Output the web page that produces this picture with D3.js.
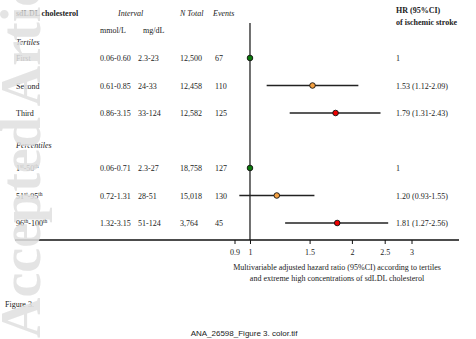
<!DOCTYPE html>
<html><head><meta charset="utf-8">
<script src="https://cdn.jsdelivr.net/npm/d3@7"></script>
<style>body{margin:0;background:#fff}svg{display:block}text{font-family:"Liberation Serif","Times New Roman",serif;font-size:8px;fill:#222}</style>
</head><body>
<script>
const groups = ["Tertiles", "Percentiles"];
const labels = ["First", "Second", "Third", "1st-50th", "51st-95th", "96th-100th"];
const mmol = ["0.06-0.60", "0.61-0.85", "0.86-3.15", "0.06-0.71", "0.72-1.31", "1.32-3.15"];
const mgdl = ["2.3-23", "24-33", "33-124", "2.3-27", "28-51", "51-124"];
const nTotal = ["12,500", "12,458", "12,582", "18,758", "15,018", "3,764"];
const events = [67, 110, 125, 127, 130, 45];
const hr = [1, 1.53, 1.79, 1, 1.20, 1.81];
const lo = [null, 1.12, 1.31, null, 0.93, 1.27];
const hi = [null, 2.09, 2.43, null, 1.55, 2.56];
const hrText = ["1", "1.53 (1.12-2.09)", "1.79 (1.31-2.43)", "1", "1.20 (0.93-1.55)", "1.81 (1.27-2.56)"];
const pointColors = ["#0b7a0b", "#f5a142", "#ee0000", "#0b7a0b", "#f5a142", "#ee0000"];
const ticks = [0.9, 1, 1.5, 2, 2.5, 3];
const tickLabels = ["0.9", "1", "1.5", "2", "2.5", "3"];
const slots = [0, 1, 2, 4, 5, 6];
const groupSlots = [-0.6, 3.16];

const W = 476, H = 339;
const svg = d3.select("body").append("svg").attr("width", W).attr("height", H);

const x = d3.scaleLog().domain([0.9, 3]).range([234.5, 411.5]);
const y = d3.scaleLinear().domain([0, 6]).range([58, 223]);
const axisY = 240;

// headers
svg.append("text").attr("x", 16).attr("y", 16).style("font-weight", "bold").text("sdLDL cholesterol");
svg.append("text").attr("x", 118).attr("y", 16).style("font-style", "italic").text("Interval");
svg.append("text").attr("x", 180).attr("y", 16).style("font-style", "italic").text("N Total");
svg.append("text").attr("x", 213).attr("y", 16).style("font-style", "italic").text("Events");
svg.append("text").attr("x", 100).attr("y", 33).text("mmol/L");
svg.append("text").attr("x", 143).attr("y", 33).text("mg/dL");
svg.append("text").attr("x", 396).attr("y", 13).style("font-weight", "bold").text("HR (95%CI)");
svg.append("text").attr("x", 396).attr("y", 25).style("font-weight", "bold").text("of ischemic stroke");

// group headers
svg.selectAll(".grp").data(groups).join("text").attr("class", "grp")
  .attr("x", 16).attr("y", (d, i) => y(groupSlots[i]) + 3)
  .style("font-style", "italic").text(d => d);

// row labels with superscript ordinals
const lab = svg.selectAll(".lab").data(labels).join("text").attr("class", "lab")
  .attr("x", 16).attr("y", (d, i) => y(slots[i]) + 3);
lab.each(function (d) {
  const t = d3.select(this);
  const parts = [];
  const re = /(\d+)(st|nd|rd|th)/g;
  let last = 0, m;
  while ((m = re.exec(d)) !== null) {
    if (m.index > last) parts.push({ s: d.slice(last, m.index), sup: false });
    parts.push({ s: m[1], sup: false });
    parts.push({ s: m[2], sup: true });
    last = re.lastIndex;
  }
  if (last < d.length) parts.push({ s: d.slice(last), sup: false });
  let prevSup = false;
  parts.forEach(p => {
    const ts = t.append("tspan").text(p.s);
    if (p.sup) ts.style("font-size", "5.5px");
    if (p.sup && !prevSup) ts.attr("dy", -3);
    if (!p.sup && prevSup) ts.attr("dy", 3);
    prevSup = p.sup;
  });
});

const cols = [[mmol, 100], [mgdl, 138], [nTotal, 180], [events, 215], [hrText, 396]];
cols.forEach(([arr, cx]) => {
  svg.append("g").selectAll("text").data(arr).join("text")
    .attr("x", cx).attr("y", (d, i) => y(slots[i]) + 3).text(d => d);
});

// reference line
svg.append("line").attr("x1", x(1)).attr("x2", x(1)).attr("y1", 23).attr("y2", axisY)
  .attr("stroke", "#333").attr("stroke-width", 1.4);

// CI lines
const idx = d3.range(hr.length);
svg.append("g").selectAll("line").data(idx.filter(i => lo[i] != null)).join("line")
  .attr("x1", i => x(lo[i])).attr("x2", i => x(hi[i]))
  .attr("y1", i => y(slots[i])).attr("y2", i => y(slots[i]))
  .attr("stroke", "#222").attr("stroke-width", 1.4);

// points
svg.append("g").selectAll("circle").data(idx).join("circle")
  .attr("cx", i => x(hr[i])).attr("cy", i => y(slots[i])).attr("r", 2.8)
  .attr("fill", i => pointColors[i]).attr("stroke", "#111").attr("stroke-width", 0.9);

// axis
svg.append("line").attr("x1", 15).attr("x2", 459).attr("y1", axisY).attr("y2", axisY)
  .attr("stroke", "#111").attr("stroke-width", 1.4);
const axis = d3.axisBottom(x).tickValues(ticks).tickFormat((d, i) => tickLabels[i]).tickSize(4).tickSizeOuter(0);
const ag = svg.append("g").attr("transform", `translate(0,${axisY})`).call(axis);
ag.select(".domain").remove();
ag.selectAll(".tick line").attr("stroke", "#111").attr("stroke-width", 1);
ag.selectAll(".tick text").attr("dy", null).attr("y", 15)
  .style("font-family", '"Liberation Serif",serif').style("font-size", "8px").attr("fill", "#222");

// caption
svg.append("text").attr("x", 337).attr("y", 270).attr("text-anchor", "middle")
  .text("Multivariable adjusted hazard ratio (95%CI) according to tertiles");
svg.append("text").attr("x", 337).attr("y", 281).attr("text-anchor", "middle")
  .text("and extreme high concentrations of sdLDL cholesterol");

svg.append("text").attr("x", 5).attr("y", 307).text("Figure 3.");
svg.append("text").attr("x", 244).attr("y", 336).attr("text-anchor", "middle")
  .style("font-family", '"Liberation Sans",Arial,sans-serif').style("font-size", "8px").text("ANA_26598_Figure 3. color.tif");

// watermark
svg.append("text").attr("transform", "translate(40,338) rotate(-90)")
  .style("font-size", "56px").style("font-weight", "bold").style("fill", "#e0e0e0").style("opacity", 0.85)
  .text("Accepted Article");
</script>
</body></html>
